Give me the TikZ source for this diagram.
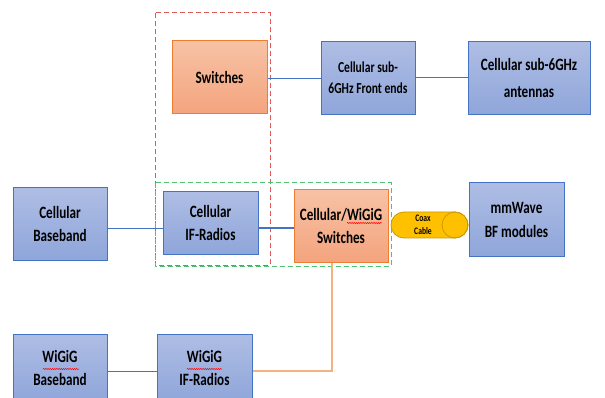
\documentclass[tikz,border=0pt]{standalone}
\usepackage{fontspec}
\setmainfont{Carlito}[FakeStretch=0.76]
\usetikzlibrary{decorations.pathmorphing}
\definecolor{btop}{HTML}{AEBDE4}
\definecolor{bbot}{HTML}{8FA6DA}
\definecolor{bdraw}{HTML}{4472C4}
\definecolor{otop}{HTML}{F7C2A5}
\definecolor{obot}{HTML}{F4A47E}
\definecolor{odraw}{HTML}{ED7D31}
\definecolor{coaxfill}{HTML}{FFC000}
\definecolor{coaxdraw}{HTML}{C99A06}
\definecolor{reddash}{HTML}{E05A5A}
\definecolor{greendash}{HTML}{4EC372}
\definecolor{oline}{HTML}{F4B183}
\tikzset{
  box/.style={minimum width=95pt, minimum height=73pt, inner sep=0pt, align=center,
    line width=1pt, font=\bfseries\fontsize{17.3}{22.7}\selectfont},
  bluebox/.style={box, draw=bdraw, top color=btop, bottom color=bbot},
  orangebox/.style={box, draw=odraw, top color=otop, bottom color=obot},
  conn/.style={draw=bdraw, line width=0.9pt},
  oconn/.style={draw=oline, line width=1.6pt},
  groupbox/.style={line width=1pt, dash pattern=on 5pt off 3pt},
  squig/.style={draw=red, line width=0.5pt, decorate, decoration={snake, amplitude=0.6pt, segment length=2.2pt}},
}
\begin{document}
\begin{tikzpicture}[x=1pt,y=1pt]
\useasboundingbox (0,0) rectangle (605,-398);
% group boxes
\draw[reddash, groupbox] (155,-13) rectangle (270,-265);
% nodes
\node[orangebox] (sw) at (219.5,-77.5) {Switches};
\node[bluebox, minimum width=94pt, font=\bfseries\fontsize{15.3}{21}\selectfont] (fe) at (368,-78) {Cellular sub-\\6GHz Front ends};
\node[bluebox, minimum width=122pt, font=\bfseries\fontsize{17.3}{27}\selectfont] (ant) at (529,-78) {Cellular sub-6GHz\\antennas};
\node[bluebox, minimum width=94pt, minimum height=72pt] (cbb) at (60,-224) {Cellular\\Baseband};
\node[bluebox, minimum height=62pt] (cif) at (210.5,-223) {Cellular\\IF-Radios};
\node[orangebox, minimum width=94pt, minimum height=72pt] (cws) at (341,-226) {Cellular/WiGiG\\Switches};
\node[bluebox, font=\bfseries\fontsize{17.3}{24}\selectfont] (mm) at (516.5,-219.5) {mmWave\\BF modules};
\node[bluebox, minimum width=94pt, minimum height=68pt] (wbb) at (60,-368) {WiGiG\\Baseband};
\node[bluebox, minimum width=95pt, minimum height=68pt] (wif) at (204.5,-368) {WiGiG\\IF-Radios};
\draw[greendash, groupbox] (155,-183) rectangle (391,-266);
% spell-check squiggles
\draw[squig] (347,-223) -- (382,-223);
\draw[squig] (43,-369) -- (79,-369);
\draw[squig] (187,-369) -- (222,-369);
% coax cable
\filldraw[fill=coaxfill, draw=coaxdraw, line width=0.8pt, rounded corners=13pt] (391,-212) rectangle (468,-238);
\draw[coaxdraw, line width=0.8pt] (455,-225) circle (13pt);
\node[inner sep=0pt, align=center, font=\bfseries\fontsize{10}{13}\selectfont] (coax) at (423,-225) {Coax\\Cable};
% connectors
\draw[conn] (sw.east |- 0,-78) -- (fe.west |- 0,-78);
\draw[conn] (fe.east |- 0,-77) -- (ant.west |- 0,-77);
\draw[conn] (cbb.east |- 0,-228) -- (cif.west |- 0,-228);
\draw[conn, line width=1.3pt] (cif.east |- 0,-228) -- (cws.west |- 0,-228);
\draw[conn] (wbb.east |- 0,-371) -- (wif.west |- 0,-371);
\draw[oconn] (wif.east |- 0,-371) -| (cws.south -| 332,0);
\end{tikzpicture}
\end{document}
